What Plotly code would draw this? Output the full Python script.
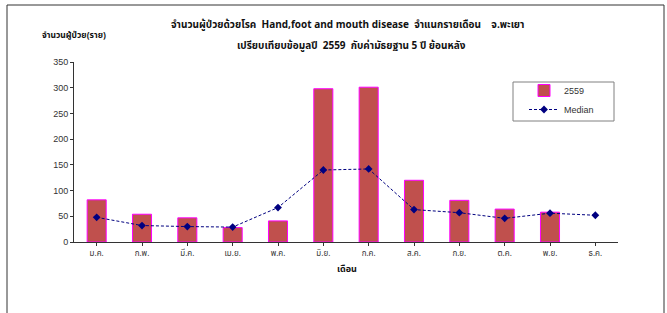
import plotly.graph_objects as go

months = ["ม.ค.", "ก.พ.", "มี.ค.", "เม.ย.", "พ.ค.", "มิ.ย.", "ก.ค.", "ส.ค.", "ก.ย.", "ต.ค.", "พ.ย.", "ธ.ค."]
cases_2559 = [82, 54, 47, 28, 41, 298, 301, 120, 81, 64, 58, None]
median_5y = [48, 32, 30, 29, 67, 140, 142, 63, 57, 46, 56, 52]

thai_font = "Tahoma, 'Noto Sans Thai', 'Noto Sans', 'DejaVu Sans', sans-serif"

fig = go.Figure()
fig.add_trace(go.Bar(
    x=months, y=cases_2559, name="2559",
    marker=dict(color="#C0504D", line=dict(color="#FF00FF", width=1)),
    width=0.42,
))
fig.add_trace(go.Scatter(
    x=months, y=median_5y, name="Median", mode="lines+markers",
    line=dict(color="#000080", width=1, dash="3px,2px"),
    marker=dict(symbol="diamond", size=6, color="#000080"),
))

fig.update_layout(
    width=667, height=313,
    margin=dict(l=74, r=49, t=62, b=71),
    paper_bgcolor="white", plot_bgcolor="white",
    showlegend=True,
    legend=dict(
        x=(524 - 74) / 544, y=(242 - 76) / 180, xanchor="left", yanchor="top",
        borderwidth=0, bgcolor="rgba(0,0,0,0)",
        font=dict(family="Arial, Liberation Sans, sans-serif", size=9, color="#333"),
        itemwidth=30, tracegroupgap=0,
    ),
    font=dict(family=thai_font),
    xaxis=dict(
        showline=True, linecolor="#333", linewidth=1,
        ticks="outside", ticklen=3, tickcolor="#333",
        tickfont=dict(size=8, color="#333", family=thai_font),
        showgrid=False, range=[-0.5, 11.5],
    ),
    yaxis=dict(
        range=[0, 350], dtick=50,
        showline=True, linecolor="#333", linewidth=1,
        ticks="outside", ticklen=3, tickcolor="#333",
        tickfont=dict(size=9, color="#333", family="Arial, Liberation Sans, sans-serif"),
        showgrid=False, zeroline=False,
    ),
    annotations=[
        dict(text="<b>จำนวนผู้ป่วยด้วยโรค  Hand,foot and mouth disease  จำแนกรายเดือน    จ.พะเยา</b>",
             xref="paper", yref="paper", x=0.502, y=1.205, showarrow=False,
             font=dict(size=10, color="#111", family=thai_font), xanchor="center", yanchor="middle"),
        dict(text="<b>เปรียบเทียบข้อมูลปี  2559  กับค่ามัธยฐาน 5 ปี ย้อนหลัง</b>",
             xref="paper", yref="paper", x=0.511, y=1.089, showarrow=False,
             font=dict(size=10, color="#111", family=thai_font), xanchor="center", yanchor="middle"),
        dict(text="<b>จำนวนผู้ป่วย(ราย)</b>",
             xref="paper", yref="paper", x=0.0, y=1.15, showarrow=False,
             font=dict(size=8.5, color="#111", family=thai_font), xanchor="center", yanchor="middle"),
        dict(text="<b>เดือน</b>",
             xref="paper", yref="paper", x=0.502, y=-0.15, showarrow=False,
             font=dict(size=9, color="#111", family=thai_font), xanchor="center", yanchor="middle"),
    ],
    shapes=[
        dict(type="rect", xref="paper", yref="paper",
             x0=(7 - 74) / 544, x1=(664 - 74) / 544,
             y0=(242 - 330) / 180, y1=(242 - 5) / 180,
             line=dict(color="#333", width=1), fillcolor="rgba(0,0,0,0)", layer="below"),
        dict(type="rect", xref="paper", yref="paper",
             x0=(513 - 74) / 544, x1=(614 - 74) / 544,
             y0=(242 - 121) / 180, y1=(242 - 82) / 180,
             line=dict(color="#808080", width=1), fillcolor="white", layer="below"),
    ],
)

fig.write_html("out.html", config={"displayModeBar": False},
               post_script="document.body.style.margin='0';")
